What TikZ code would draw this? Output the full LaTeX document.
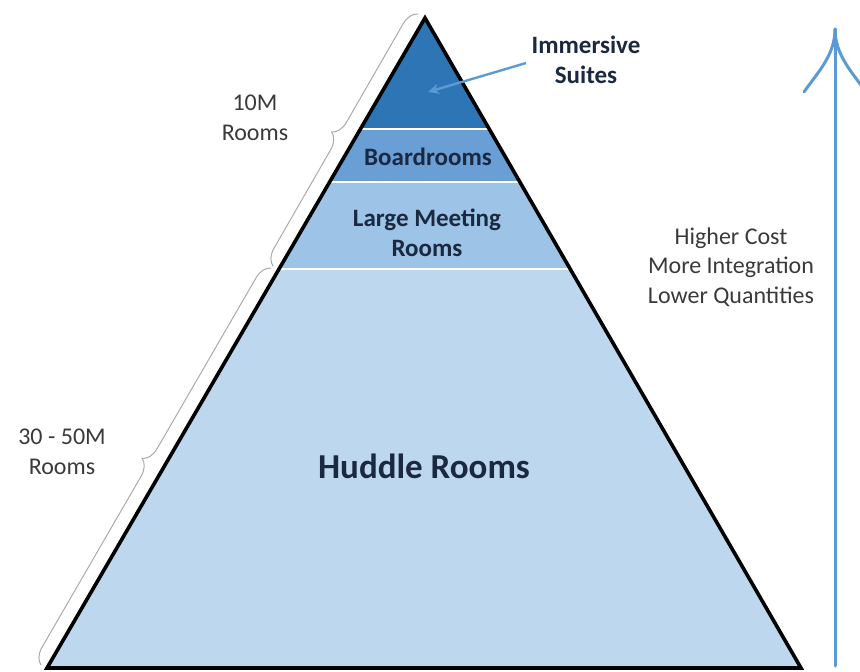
\documentclass[tikz,border=0pt]{standalone}
\usepackage{fontspec}
\setmainfont{Carlito}
\usetikzlibrary{arrows.meta,decorations.pathreplacing}
\definecolor{bandA}{HTML}{2E75B6}
\definecolor{bandB}{HTML}{6A9FD6}
\definecolor{bandC}{HTML}{9DC3E6}
\definecolor{bandD}{HTML}{BDD7EE}
\definecolor{arrowblue}{HTML}{5B9BD5}
\definecolor{navy}{HTML}{1A2840}
\definecolor{graytext}{HTML}{3A3A3A}
\definecolor{bracegray}{HTML}{AAAAAA}
\tikzset{
  boldlabel/.style={font=\fontsize{25}{30}\selectfont\bfseries, text=navy, align=center, inner sep=0pt},
  biglabel/.style={font=\fontsize{35}{40}\selectfont\bfseries, text=navy, align=center, inner sep=0pt},
  sidelabel/.style={font=\fontsize{24}{29.5}\selectfont, text=graytext, align=center, inner sep=0pt},
  bracestyle/.style={draw=bracegray, line width=1pt, decorate, decoration={brace, amplitude=16pt}},
  separator/.style={draw=white, line width=2pt},
  blueline/.style={draw=arrowblue, line width=3pt, line cap=round},
}
\begin{document}
\begin{tikzpicture}[x=1pt,y=-1pt]
\useasboundingbox (0,0) rectangle (860,672);
% triangle corners
\coordinate (apex) at (425,18);
\coordinate (bl) at (47,668);
\coordinate (br) at (801,668);
% bands
\begin{scope}
  \clip (apex) -- (bl) -- (br) -- cycle;
  \fill[bandA] (0,0) rectangle (860,129);
  \fill[bandB] (0,129) rectangle (860,182);
  \fill[bandC] (0,182) rectangle (860,269);
  \fill[bandD] (0,269) rectangle (860,672);
  \draw[separator] (0,129) -- (860,129);
  \draw[separator] (0,182) -- (860,182);
  \draw[separator] (0,269) -- (860,269);
\end{scope}
\draw[line width=3.6pt, line join=miter] (apex) -- (bl) -- (br) -- cycle;
% labels inside
\node[boldlabel] (board) at (428,157) {Boardrooms};
\node[boldlabel] (large) at (427,233) {Large Meeting\\Rooms};
\node[biglabel] (huddle) at (424,466) {Huddle Rooms};
\node[boldlabel] (immersive) at (586,60) {Immersive\\Suites};
% arrow to top band
\coordinate (imstart) at (526,63);
\coordinate (imend) at (428,92);
\draw[draw=arrowblue, line width=2.4pt, -{Stealth[length=11pt,width=10pt]}] (imstart) -- (imend);
% braces
\coordinate (b1lo) at (273,266);
\coordinate (b1hi) at (418,14);
\coordinate (b2lo) at (41,665);
\coordinate (b2hi) at (271,268);
\draw[bracestyle] (b1lo) -- (b1hi);
\draw[bracestyle] (b2lo) -- (b2hi);
\node[sidelabel] (tenm) at (255,118) {10M\\Rooms};
\node[sidelabel] (thirty) at (62,452) {30 - 50M\\Rooms};
% right arrow
\coordinate (abot) at (835,666);
\coordinate (atop) at (835,29);
\coordinate (armL) at (804,92);
\coordinate (armR) at (866,92);
\draw[blueline] (abot) -- (atop);
\draw[blueline] (atop) .. controls (835,55) and (818,72) .. (armL);
\draw[blueline] (atop) .. controls (835,55) and (852,72) .. (armR);
\node[sidelabel] (cost) at (731,267) {Higher Cost\\More Integration\\Lower Quantities};
\end{tikzpicture}
\end{document}
